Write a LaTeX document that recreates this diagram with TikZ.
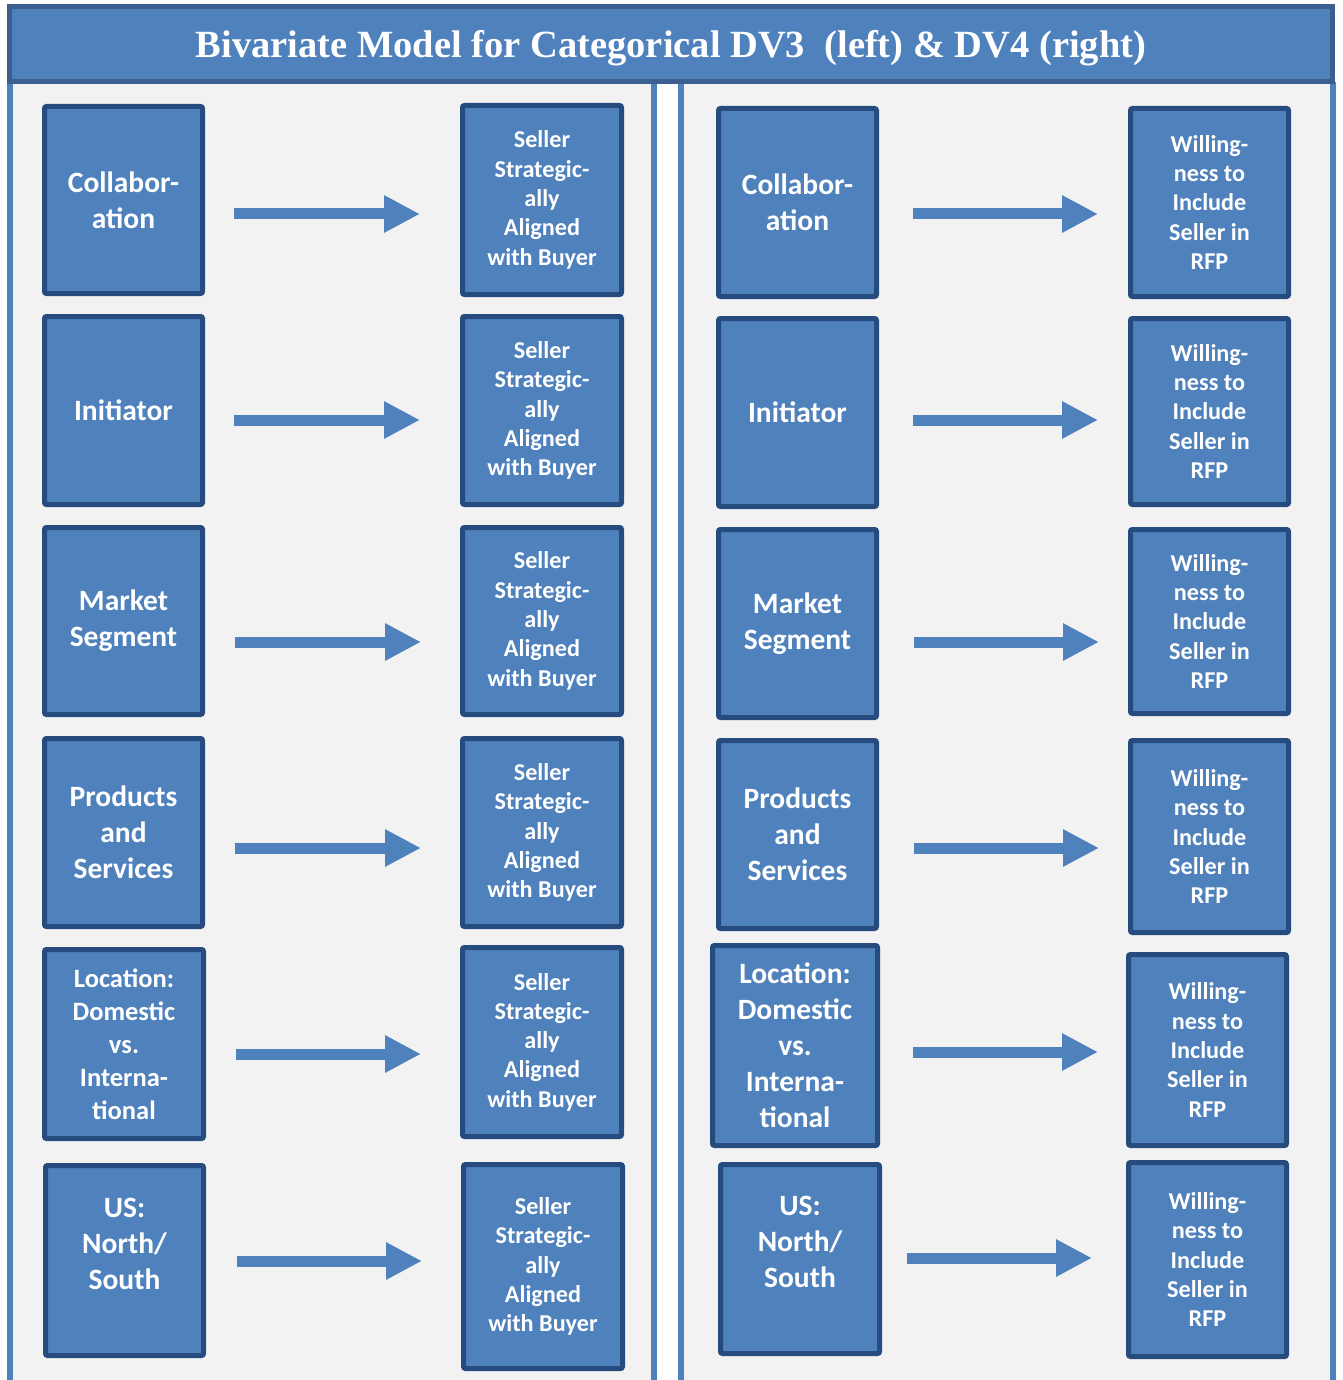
\documentclass[tikz,border=0pt]{standalone}
\usepackage{fontspec}
\setmainfont{Carlito}
\newfontfamily\titlefont{Liberation Serif}
\usetikzlibrary{arrows.meta}
\definecolor{office}{HTML}{4F81BD}
\definecolor{boxedge}{HTML}{254B7F}
\definecolor{baredge}{HTML}{3B5F8F}
\definecolor{panelbg}{HTML}{F2F2F2}
\tikzset{
  blk/.style={draw=boxedge, fill=office, line width=5pt, rounded corners=2pt,
    text=white, align=center, inner sep=0pt, minimum width=158pt},
  bigtxt/.style={font=\fontsize{29.5}{36}\selectfont\bfseries},
  midtxt/.style={font=\fontsize{26.5}{33}\selectfont\bfseries},
  smalltxt/.style={font=\fontsize{24.2}{29.3}\selectfont\bfseries},
  barrow/.style={draw=office, line width=11pt,
    -{Triangle[length=36pt,width=35pt]}},
  panelline/.style={draw=office, line width=6pt},
}
\begin{document}
\begin{tikzpicture}[x=1pt,y=-1pt]
\useasboundingbox (0,0) rectangle (1342,1380);
\fill[white] (0,0) rectangle (1342,1380);

% two panels
\fill[panelbg] (10,82) rectangle (654,1380);
\fill[panelbg] (681,82) rectangle (1333,1380);
\draw[panelline] (10,82) -- (10,1380);
\draw[panelline] (654,82) -- (654,1380);
\draw[panelline] (681,82) -- (681,1380);
\draw[panelline] (1333,82) -- (1333,1380);

% title bar
\draw[fill=office, draw=baredge, line width=5pt] (9.5,6.5) rectangle (1332.5,81.5);
\node[font=\titlefont\fontsize{38.5}{46}\selectfont\bfseries, text=white, anchor=base]
  (title) at (671,58) {Bivariate Model for Categorical DV3\ \ (left) \& DV4 (right)};

% left panel: predictors
\node[blk, bigtxt, minimum height=187pt] (L1) at (123.5,200) {Collabor-\\ation};
\node[blk, bigtxt, minimum height=188pt] (L2) at (123.5,410.5) {Initiator};
\node[blk, bigtxt, minimum height=187pt] (L3) at (123.5,621) {Market\\Segment};
\node[blk, bigtxt, minimum height=188pt] (L4) at (123.5,832.5) {Products\\and\\Services};
\node[blk, midtxt, minimum height=189pt, minimum width=159pt] (L5) at (124,1044)
  {Location:\\Domestic\\vs.\\Interna-\\tional};
\node[blk, minimum height=190pt,
  label={[bigtxt, text=white, align=center, yshift=17pt]center:{US:\\North/\\South}}]
  (L6) at (124.5,1260.5) {};

% left panel: outcome DV3
\node[blk, smalltxt, minimum height=189pt, minimum width=159pt] (T1) at (542,200)
  {Seller\\Strategic-\\ally\\Aligned\\with Buyer};
\node[blk, smalltxt, minimum height=188pt, minimum width=159pt] (T2) at (542,410.5)
  {Seller\\Strategic-\\ally\\Aligned\\with Buyer};
\node[blk, smalltxt, minimum height=187pt, minimum width=159pt] (T3) at (542,621)
  {Seller\\Strategic-\\ally\\Aligned\\with Buyer};
\node[blk, smalltxt, minimum height=188pt, minimum width=159pt] (T4) at (542,832.5)
  {Seller\\Strategic-\\ally\\Aligned\\with Buyer};
\node[blk, smalltxt, minimum height=189pt, minimum width=159pt] (T5) at (542,1042)
  {Seller\\Strategic-\\ally\\Aligned\\with Buyer};
\node[blk, smalltxt, minimum height=204pt, minimum width=159pt] (T6) at (543,1266.5)
  {Seller\\Strategic-\\ally\\Aligned\\with Buyer};

% right panel: predictors
\node[blk, bigtxt, minimum height=188pt] (S1) at (797.5,202.5) {Collabor-\\ation};
\node[blk, bigtxt, minimum height=188pt] (S2) at (797.5,412.5) {Initiator};
\node[blk, bigtxt, minimum height=188pt] (S3) at (797.5,623.5) {Market\\Segment};
\node[blk, bigtxt, minimum height=188pt] (S4) at (797.5,834.5) {Products\\and\\Services};
\node[blk, bigtxt, minimum height=200pt, minimum width=165pt] (S5) at (795,1045.5)
  {Location:\\Domestic\\vs.\\Interna-\\tional};
\node[blk, minimum height=189pt, minimum width=159pt,
  label={[bigtxt, text=white, align=center, yshift=17pt]center:{US:\\North/\\South}}]
  (S6) at (800,1259) {};

% right panel: outcome DV4
\node[blk, smalltxt, minimum height=188pt] (W1) at (1209.5,202.5)
  {Willing-\\ness to\\Include\\Seller in\\RFP};
\node[blk, smalltxt, minimum height=186pt] (W2) at (1209.5,411.5)
  {Willing-\\ness to\\Include\\Seller in\\RFP};
\node[blk, smalltxt, minimum height=184pt] (W3) at (1209.5,621.5)
  {Willing-\\ness to\\Include\\Seller in\\RFP};
\node[blk, smalltxt, minimum height=192pt] (W4) at (1209.5,836.5)
  {Willing-\\ness to\\Include\\Seller in\\RFP};
\node[blk, smalltxt, minimum height=191pt] (W5) at (1207.5,1050)
  {Willing-\\ness to\\Include\\Seller in\\RFP};
\node[blk, smalltxt, minimum height=194pt] (W6) at (1207.5,1259.5)
  {Willing-\\ness to\\Include\\Seller in\\RFP};

% arrows, left panel
\draw[barrow, shorten <=29pt, shorten >=40pt] (L1.east |- 0,214) -- (T1.west |- 0,214);
\draw[barrow, shorten <=29pt, shorten >=40pt] (L2.east |- 0,420) -- (T2.west |- 0,420);
\draw[barrow, shorten <=30pt, shorten >=39pt] (L3.east |- 0,642) -- (T3.west |- 0,642);
\draw[barrow, shorten <=30pt, shorten >=39pt] (L4.east |- 0,848) -- (T4.west |- 0,848);
\draw[barrow, shorten <=30pt, shorten >=39pt] (L5.east |- 0,1054) -- (T5.west |- 0,1054);
\draw[barrow, shorten <=31pt, shorten >=39pt] (L6.east |- 0,1261) -- (T6.west |- 0,1261);

% arrows, right panel
\draw[barrow, shorten <=34pt, shorten >=30pt] (S1.east |- 0,214) -- (W1.west |- 0,214);
\draw[barrow, shorten <=34pt, shorten >=30pt] (S2.east |- 0,420) -- (W2.west |- 0,420);
\draw[barrow, shorten <=35pt, shorten >=29pt] (S3.east |- 0,642) -- (W3.west |- 0,642);
\draw[barrow, shorten <=35pt, shorten >=29pt] (S4.east |- 0,848) -- (W4.west |- 0,848);
\draw[barrow, shorten <=33pt, shorten >=28pt] (S5.east |- 0,1052) -- (W5.west |- 0,1052);
\draw[barrow, shorten <=25pt, shorten >=34pt] (S6.east |- 0,1258) -- (W6.west |- 0,1258);
\end{tikzpicture}
\end{document}
